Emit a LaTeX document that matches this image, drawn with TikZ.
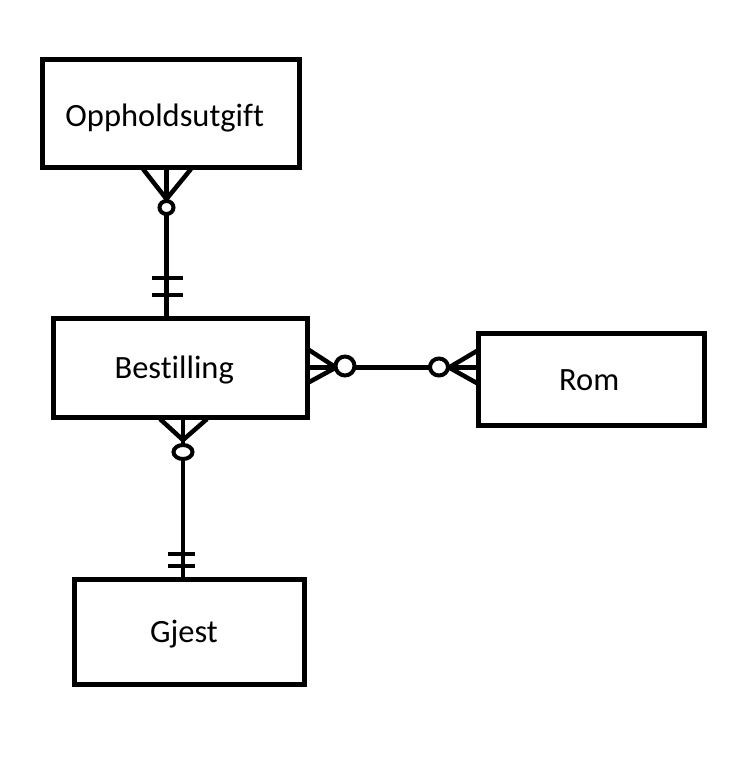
\documentclass[tikz,border=0pt]{standalone}
\usepackage{fontspec}
\setmainfont{Carlito}[Ligatures={NoCommon}]
\begin{document}
\begin{tikzpicture}[x=1pt,y=-1pt,
  ent/.style={draw=black,line width=5pt,rectangle,inner sep=0pt,text height=21pt,text depth=0pt,font=\fontsize{32.5}{38}\selectfont},
  conn/.style={draw=black,line width=4.5pt},
  ringmark/.style={draw=black,line width=4pt}]
\useasboundingbox (0,0) rectangle (748,769);
% entities
\node[ent,minimum width=256.5pt,minimum height=108.5pt] (opp) at (170.75,113.25) {\raisebox{-3pt}{Oppholdsutgift}\hspace*{12pt}};
\node[ent,minimum width=254.5pt,minimum height=99pt] (best) at (180.25,368) {Bestilling\hspace*{12pt}};
\node[ent,minimum width=225.5pt,minimum height=92pt] (rom) at (591.25,379.5) {Rom\hspace*{4pt}};
\node[ent,minimum width=230pt,minimum height=104.5pt] (gjest) at (189,631.75) {Gjest\hspace*{10pt}};
% Oppholdsutgift -- Bestilling
\coordinate (a1) at (166.5,167.5);
\coordinate (a2) at (166.5,318.5);
\draw[conn] (opp.south -| a1) -- (best.north -| a2);
\draw[conn] (143,169) -- (166.5,199) -- (191,169);
\draw[ringmark,fill=white] (166.5,207.5) circle[x radius=7, y radius=6.5];
\draw[conn] (152,278) -- (183,278);
\draw[conn] (152,295) -- (183,295);
% Bestilling -- Rom
\coordinate (b1) at (307.5,367.5);
\coordinate (b2) at (478.5,367.5);
\draw[conn] (best.east |- b1) -- (rom.west |- b2);
\draw[conn] (307.5,349) -- (336,367.5) -- (307.5,383);
\draw[ringmark,fill=white] (345,366) circle[radius=9.5];
\draw[conn] (478.5,350) -- (449,367.5) -- (478.5,384);
\draw[ringmark,fill=white] (439,367) circle[x radius=9, y radius=8.5];
% Bestilling -- Gjest
\coordinate (c1) at (183,417.5);
\coordinate (c2) at (183,579.5);
\draw[conn] (best.south -| c1) -- (gjest.north -| c2);
\draw[conn] (160,419) -- (183,440) -- (207,419);
\draw[ringmark,fill=white] (183,452) circle[x radius=9.5, y radius=7];
\draw[conn] (168,554) -- (195,554);
\draw[conn] (168,566) -- (195,566);
\end{tikzpicture}
\end{document}
